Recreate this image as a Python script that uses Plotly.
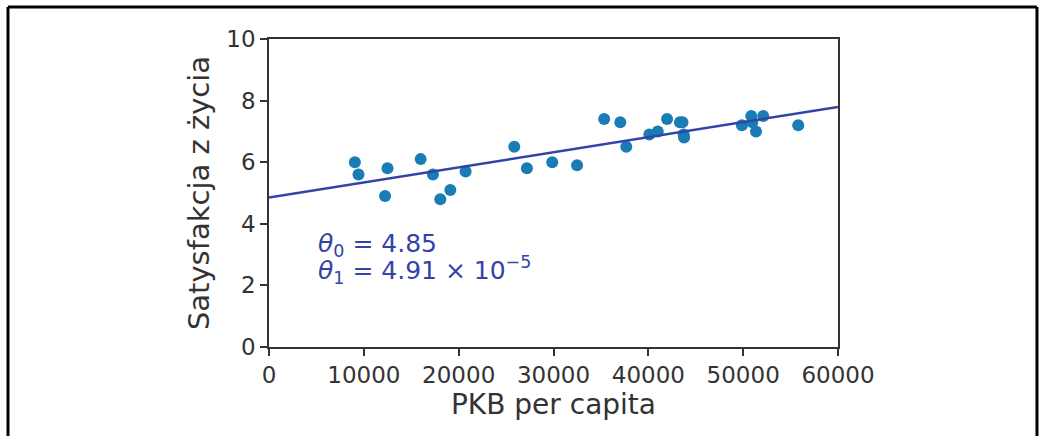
import plotly.graph_objects as go

gdp_per_capita = [9054.914, 9437.372, 12239.894, 12495.334, 15991.736, 17288.083,
                  18064.288, 19121.592, 20732.482, 25864.721, 27195.197, 29866.581,
                  32485.545, 35343.336, 37044.891, 37675.006, 40106.632, 40996.511,
                  41973.988, 43331.961, 43603.115, 43724.031, 43770.688, 49866.266,
                  50854.583, 50961.865, 51350.744, 52114.165, 55805.204]
life_satisfaction = [6.0, 5.6, 4.9, 5.8, 6.1, 5.6, 4.8, 5.1, 5.7, 6.5, 5.8, 6.0,
                     5.9, 7.4, 7.3, 6.5, 6.9, 7.0, 7.4, 7.3, 7.3, 6.9, 6.8, 7.2,
                     7.5, 7.3, 7.0, 7.5, 7.2]

theta0 = 4.85
theta1 = 4.91e-5
line_x = [0, 60000]
line_y = [theta0 + theta1 * v for v in line_x]

x_ticks = [0, 10000, 20000, 30000, 40000, 50000, 60000]
y_ticks = [0, 2, 4, 6, 8, 10]

FONT = "DejaVu Sans"
TXT = "#333333"
BLUE_LINE = "#3444a6"

fig = go.Figure()
fig.add_trace(go.Scatter(x=gdp_per_capita, y=life_satisfaction, mode="markers",
                         marker=dict(color="#1a7cb6", size=12, line=dict(width=0)),
                         showlegend=False, hoverinfo="skip"))
fig.add_trace(go.Scatter(x=line_x, y=line_y, mode="lines",
                         line=dict(color=BLUE_LINE, width=2.5),
                         showlegend=False, hoverinfo="skip"))

fig.add_annotation(x=5000, y=3.1, xref="x", yref="y", xanchor="left", yanchor="bottom",
                   yshift=-11, text="<i>θ</i><sub>0</sub> = 4.85", showarrow=False,
                   font=dict(family=FONT, size=25, color=BLUE_LINE))
fig.add_annotation(x=5000, y=2.2, xref="x", yref="y", xanchor="left", yanchor="bottom",
                   yshift=-11, text="<i>θ</i><sub>1</sub> = 4.91 × 10<sup>−5</sup>", showarrow=False,
                   font=dict(family=FONT, size=25, color=BLUE_LINE))

# outer frame (top, left, right)
frame = dict(color="black", width=3)
fig.add_shape(type="line", xref="paper", yref="paper", x0=-0.4587, x1=1.3497, y0=1.1039, y1=1.1039, line=frame)
fig.add_shape(type="line", xref="paper", yref="paper", x0=-0.4587, x1=-0.4587, y0=1.1039, y1=-0.32, line=frame)
fig.add_shape(type="line", xref="paper", yref="paper", x0=1.3497, x1=1.3497, y0=1.1039, y1=-0.32, line=frame)

axis_common = dict(showgrid=False, zeroline=False, showline=True, linecolor="#333333",
                   linewidth=1.5, mirror=True, ticks="outside", ticklen=7, tickwidth=1.5,
                   tickcolor="#333333", tickfont=dict(family=FONT, size=23, color=TXT))

fig.update_layout(
    width=1044, height=436,
    margin=dict(l=269, r=206, t=39, b=89),
    paper_bgcolor="white", plot_bgcolor="white",
    xaxis=dict(range=[0, 60000], tickvals=x_ticks, ticktext=[str(v) for v in x_ticks],
               title=dict(text="PKB per capita", font=dict(family=FONT, size=28, color=TXT), standoff=4),
               **axis_common),
    yaxis=dict(range=[0, 10], tickvals=y_ticks, ticktext=[str(v) for v in y_ticks],
               title=dict(text="Satysfakcja z życia", font=dict(family=FONT, size=29, color=TXT), standoff=8),
               **axis_common),
)

fig.write_html("out.html")
